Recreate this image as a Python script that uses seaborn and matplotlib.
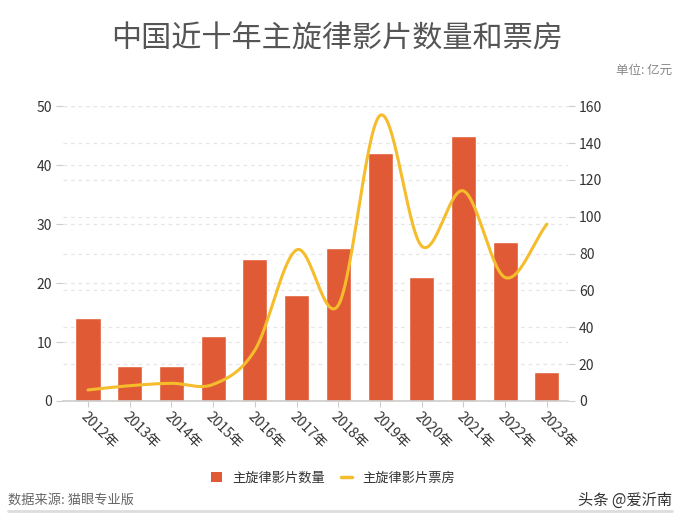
import matplotlib
matplotlib.use("Agg")
import matplotlib.pyplot as plt
import numpy as np
import pandas as pd
import seaborn as sns
from matplotlib.lines import Line2D
from matplotlib.patches import Patch

years = ["2012年", "2013年", "2014年", "2015年", "2016年", "2017年",
         "2018年", "2019年", "2020年", "2021年", "2022年", "2023年"]
film_counts = [14, 6, 6, 11, 24, 18, 26, 42, 21, 45, 27, 5]
box_office = [6, 8.3, 9.6, 9, 27.6, 82, 52, 155, 84, 114, 67, 96]

BAR_COLOR = "#E05B35"
LINE_COLOR = "#F5BC2C"
GRID_COLOR = "#E6E6E6"
TEXT_COLOR = "#333333"

sns.set_theme(style="white")
plt.rcParams["font.family"] = ["Noto Sans CJK SC", "DejaVu Sans"]


def smooth_curve(y, steps=30, tension=0.5):
    """Cardinal spline through the points, for drawing only."""
    y = np.asarray(y, dtype=float)
    n = len(y)
    pts = np.concatenate([[2 * y[0] - y[1]], y, [2 * y[-1] - y[-2]]])
    xs, ys = [], []
    for i in range(n - 1):
        p0, p1, p2, p3 = pts[i], pts[i + 1], pts[i + 2], pts[i + 3]
        m1 = tension * (p2 - p0)
        m2 = tension * (p3 - p1)
        t = np.linspace(0, 1, steps, endpoint=False)
        h00 = 2 * t**3 - 3 * t**2 + 1
        h10 = t**3 - 2 * t**2 + t
        h01 = -2 * t**3 + 3 * t**2
        h11 = t**3 - t**2
        xs.append(i + t)
        ys.append(h00 * p1 + h10 * m1 + h01 * p2 + h11 * m2)
    xs.append([n - 1])
    ys.append([y[-1]])
    return np.concatenate(xs), np.concatenate(ys)


df = pd.DataFrame({"year": years, "count": film_counts, "box": box_office})

LEFT_MAX, RIGHT_MAX = 50, 160

fig = plt.figure(figsize=(6.8, 5.23), dpi=100)
ax = fig.add_axes([0.0926, 0.2333, 0.7424, 0.5637])
ax2 = ax.twinx()

# grid lines for both axes, all drawn behind the bars
for v in range(10, LEFT_MAX + 1, 10):
    ax.axhline(v, color=GRID_COLOR, lw=0.9, ls=(0, (3, 3)), zorder=0)
for v in range(20, RIGHT_MAX + 1, 20):
    ax.axhline(v * LEFT_MAX / RIGHT_MAX, color=GRID_COLOR, lw=0.9,
               ls=(0, (3, 3)), zorder=0)

sns.barplot(data=df, x="year", y="count", color=BAR_COLOR, width=0.6,
            saturation=1, ax=ax, zorder=2)

sx, sy = smooth_curve(df["box"])
ax2.plot(sx, sy, color=LINE_COLOR, lw=2.2, solid_capstyle="round", zorder=3)

ax.set_xlim(-0.6, 11.5)
ax.set_ylim(0, LEFT_MAX)
ax2.set_ylim(0, RIGHT_MAX)
ax.set_yticks(range(0, LEFT_MAX + 1, 10))
ax2.set_yticks(range(0, RIGHT_MAX + 1, 20))
ax.set_xlabel("")
ax.set_ylabel("")
ax2.set_ylabel("")

for side in ["top", "left", "right"]:
    ax.spines[side].set_visible(False)
    ax2.spines[side].set_visible(False)
ax2.spines["bottom"].set_visible(False)
ax.spines["bottom"].set_color("#CCCCCC")
ax.spines["bottom"].set_linewidth(1.2)

ax.tick_params(axis="y", left=True, length=5, width=0.8, color="#CCCCCC",
               labelsize=10, labelcolor=TEXT_COLOR, pad=3)
ax2.tick_params(axis="y", right=True, length=5, width=0.8, color="#CCCCCC",
                labelsize=10, labelcolor=TEXT_COLOR, pad=3)
ax.tick_params(axis="x", bottom=True, length=4, width=0.8, color="#CCCCCC",
               labelsize=10, labelcolor=TEXT_COLOR, pad=2)
plt.setp(ax.get_xticklabels(), rotation=-45, ha="left",
         rotation_mode="anchor")

fig.text(0.495, 0.925, "中国近十年主旋律影片数量和票房", ha="center", va="center",
         fontsize=21.7, color="#555555")
fig.text(0.988, 0.866, "单位: 亿元", ha="right", va="center",
         fontsize=9, color="#888888")

handles = [Patch(facecolor=BAR_COLOR, edgecolor="none"),
           Line2D([0], [0], color=LINE_COLOR, lw=2.5)]
fig.legend(handles, ["主旋律影片数量", "主旋律影片票房"], loc="center",
           bbox_to_anchor=(0.49, 0.086), ncol=2, frameon=False,
           fontsize=9.5, handlelength=0.8, handleheight=0.8, columnspacing=1.2,
           handletextpad=0.8, labelcolor=TEXT_COLOR)

fig.text(0.012, 0.043, "数据来源: 猫眼专业版", ha="left", va="center",
         fontsize=9.5, color="#666666")
fig.text(0.988, 0.043, "头条 @爱沂南", ha="right", va="center",
         fontsize=11, color=TEXT_COLOR)
fig.add_artist(Line2D([0.012, 0.988], [0.022, 0.022], color="#DDDDDD",
                      lw=2, transform=fig.transFigure))

fig.savefig("out.png", dpi=100)
